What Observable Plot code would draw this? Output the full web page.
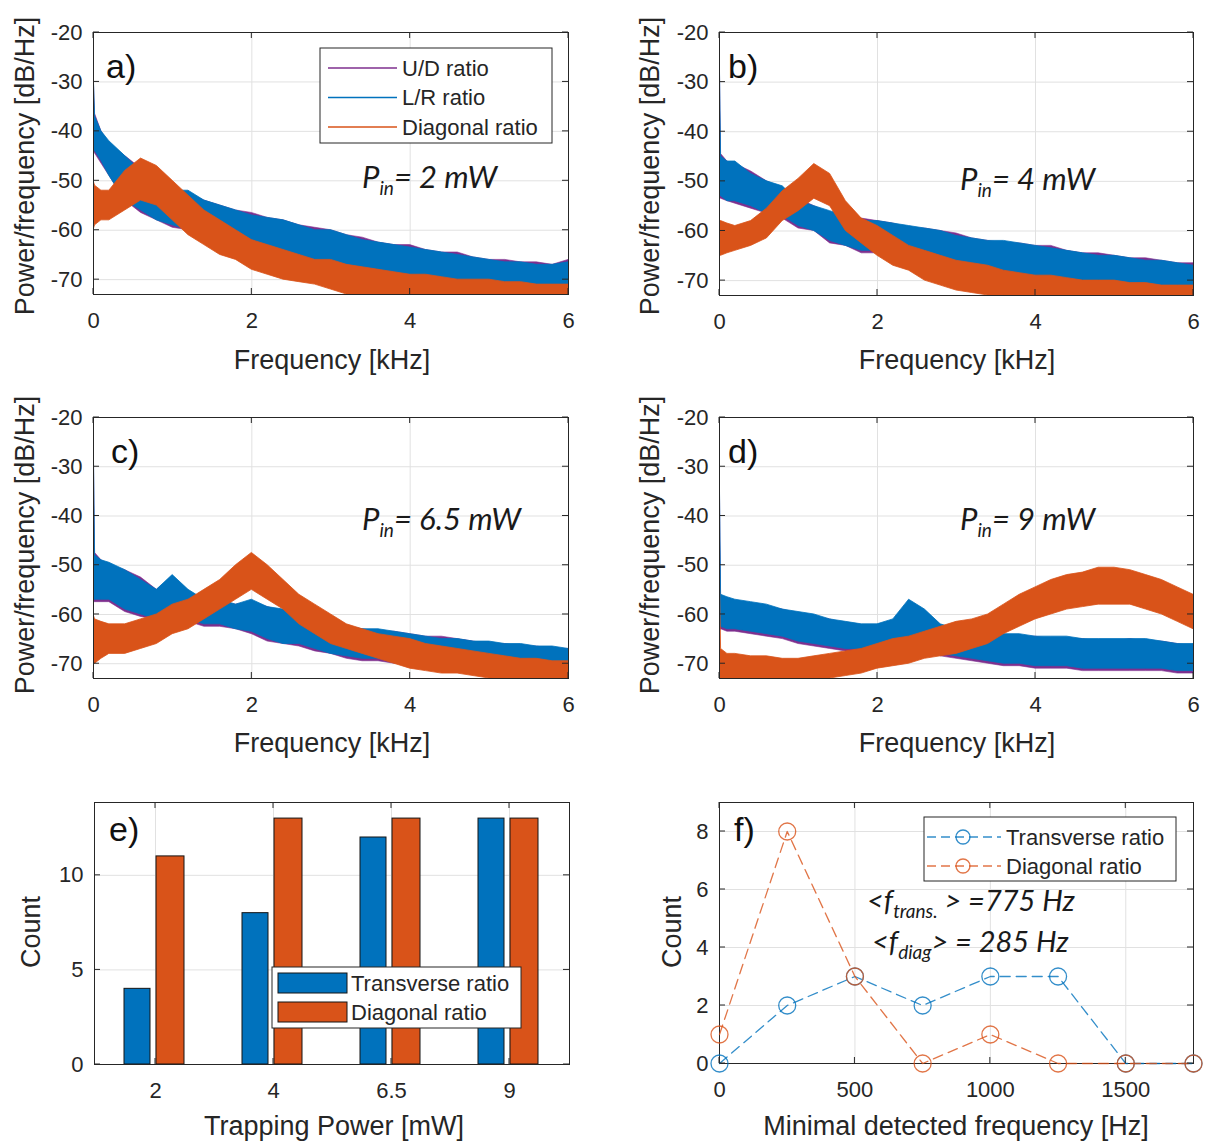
<!DOCTYPE html>
<html><head><meta charset="utf-8">
<script src="https://cdn.jsdelivr.net/npm/d3@7"></script>
<script src="https://cdn.jsdelivr.net/npm/@observablehq/plot@0.6"></script>
<style>
body{margin:0;background:#fff;}
#wrap{position:relative;width:1208px;height:1147px;overflow:hidden;background:#fff;}
</style></head><body><div id="wrap"></div>
<script>
// ---------------- DATA ----------------
const freq = [0, 0.02, 0.1, 0.2, 0.4, 0.6, 0.8, 1.0, 1.2, 1.4, 1.6, 1.8, 2.0, 2.2, 2.4, 2.6, 2.8, 3.0, 3.2, 3.4, 3.6, 3.8, 4.0, 4.2, 4.4, 4.6, 4.8, 5.0, 5.2, 5.4, 5.6, 5.8, 6.0];
const freqTicks = [0, 2, 4, 6];
const dbTicks = [-20, -30, -40, -50, -60, -70];

// Panel a (2 mW): noise band lower / upper edges, dB/Hz
const aUDhi = [-28, -36.5, -40, -42.5, -45, -47.5, -50, -52, -52.5, -54, -55, -56, -56.5, -57.5, -58, -59, -59.5, -60, -61, -61.5, -62.5, -63, -63, -64, -64.5, -64.5, -65.5, -66, -66, -66.5, -66.5, -67, -66];
const aUDlo = [-44, -44.5, -46.5, -49, -54, -56.5, -58, -59.5, -60, -61.5, -62, -63, -63, -64.5, -64.5, -65.5, -66, -67, -67, -68, -68, -69, -69, -70, -70, -70.5, -70.5, -71.5, -71, -72, -72, -72.5, -72.5];
const aLRhi = [-27, -37, -40, -42, -45, -48, -50, -52, -52, -54, -55, -56, -57, -57.5, -58, -59, -60, -60, -61, -62, -62.5, -63, -63.5, -64, -64.5, -65, -65.5, -66, -66.5, -66.5, -67, -67, -66.5];
const aLRlo = [-44, -44, -46, -49, -54, -56, -58, -59, -60, -61, -62, -62.5, -63, -64, -64.5, -65, -66, -66.5, -67, -67.5, -68, -68.5, -69, -69.5, -70, -70, -70.5, -71, -71, -71.5, -72, -72, -72];
const aDGhi = [-50, -51, -52, -52, -48, -45.5, -47, -50, -53, -56, -58, -60, -62, -63, -64, -65, -66, -66, -67, -67.5, -68, -68.5, -69, -69, -69.5, -70, -70, -70, -70.5, -70.5, -71, -71, -71];
const aDGlo = [-60, -59, -58, -58, -56, -54, -55, -58, -61, -63, -65, -66, -68, -69, -70, -70.5, -71, -72, -73, -73.5, -74, -74, -75, -75, -75, -75, -75, -75, -75, -75, -75, -75, -75];

// Panel b (4 mW)
const bUDhi = [-21, -44.5, -46, -46.5, -48, -50, -51.5, -53.5, -55, -56.5, -57, -57.5, -58, -58.5, -59.5, -59.5, -60, -60.5, -61.5, -62, -62.5, -62.5, -63, -63, -64, -64.5, -64.5, -65, -65.5, -65.5, -66, -66.5, -66.5];
const bUDlo = [-53.5, -53.5, -54, -54.5, -55.5, -56.5, -57.5, -59.5, -60, -62.5, -63, -64.5, -64.5, -65, -65, -66, -66.5, -67, -68, -68, -68.5, -69, -69, -70, -70, -70.5, -70.5, -70.5, -71, -71.5, -71.5, -72, -72.5];
const bLRhi = [-20, -45, -46, -46, -48.5, -50, -51, -54, -55, -56, -57, -58, -58, -58.5, -59, -59.5, -60, -61, -61.5, -62, -62, -62.5, -63, -63.5, -64, -64.5, -65, -65, -65.5, -66, -66, -66.5, -67];
const bLRlo = [-53, -53, -54, -54, -55, -56.5, -57, -59, -60, -62, -63, -64, -64, -64.5, -65, -65.5, -66, -67, -67.5, -68, -68, -68.5, -69, -69.5, -70, -70, -70, -70.5, -71, -71, -71.5, -72, -72];
const bDGhi = [-58, -58, -58.5, -59, -58, -55.5, -52, -49.5, -46.5, -48.5, -54, -57.5, -59, -61, -63, -64, -65, -66, -66.5, -67, -68, -68.5, -69, -69, -69.5, -70, -70, -70, -70.5, -70.5, -71, -71, -71];
const bDGlo = [-65, -65, -64.5, -64, -63, -61.5, -58, -56, -53.5, -55, -60, -62.5, -65, -67, -68, -70, -71, -72, -72.5, -73, -73, -73.5, -74, -74, -75, -75, -75, -75, -75, -75, -75, -75, -75];

// Panel c (6.5 mW)
const cUDhi = [-21, -47.5, -49, -50, -51, -52.5, -55, -52.5, -55.5, -57, -57.5, -58, -57.5, -58.5, -59.5, -60, -61, -61.5, -62.5, -63, -63.5, -63.5, -64, -64.5, -64.5, -65, -65.5, -66, -66, -66.5, -66.5, -67, -67];
const cUDlo = [-57.5, -57.5, -57.5, -57.5, -59.5, -60.5, -61, -60, -61.5, -62.5, -62.5, -63, -64, -65.5, -66, -66.5, -67.5, -68, -69, -69.5, -69.5, -70, -70, -70.5, -70.5, -70.5, -71, -71, -71.5, -71.5, -72, -72, -72.5];
const cLRhi = [-20, -48, -49, -49.5, -51, -53, -55, -52, -55, -57, -57, -58, -57, -58.5, -59, -60, -61, -62, -62.5, -63, -63, -63.5, -64, -64.5, -65, -65, -65.5, -65.5, -66, -66, -66.5, -66.5, -67];
const cLRlo = [-57, -57, -57, -57, -59, -60, -61, -59.5, -61, -62, -62, -63, -63.5, -65, -66, -66, -67, -68, -68.5, -69, -69, -69.5, -70, -70, -70, -70.5, -70.5, -70.5, -71, -71, -71.5, -72, -72];
const cDGhi = [-60, -61, -61.5, -62, -62, -61, -60, -58, -57, -55, -53, -50, -47.5, -50, -53, -56, -58, -60, -62, -63, -64, -64.5, -65, -66, -66.5, -67, -67.5, -68, -68.5, -69, -69, -69.5, -69.5];
const cDGlo = [-70, -70, -69, -68, -68, -67, -66, -64, -63, -61, -59, -57, -55, -57, -59, -62, -64, -66, -67, -68, -69, -70, -71, -71.5, -72, -72, -72.5, -73, -73.5, -74, -74, -74, -74];

// Panel d (9 mW)
const dUDhi = [-26, -56.5, -57, -57.5, -58, -58.5, -59, -60, -60.5, -61, -62, -62.5, -62.5, -61.5, -58, -59.5, -62.5, -63.5, -64, -64, -64.5, -64.5, -64.5, -65, -65, -65, -65.5, -65.5, -65, -65.5, -65.5, -66, -66.5];
const dUDlo = [-63.5, -63, -63.5, -63.5, -64, -64.5, -65, -66, -66.5, -67, -67.5, -67.5, -67.5, -67, -65, -66.5, -68.5, -69, -69.5, -70, -70.5, -70.5, -71, -71, -71, -71.5, -71.5, -71.5, -71.5, -71.5, -71.5, -72, -72];
const dLRhi = [-25, -56, -56.5, -57, -57.5, -58, -59, -59.5, -60, -61, -61.5, -62, -62, -61, -57, -59, -62, -63, -63.5, -64, -64, -64, -64.5, -64.5, -64.5, -65, -65, -65, -65, -65, -65.5, -66, -66];
const dLRlo = [-63, -62.5, -63, -63, -63.5, -64, -64.5, -65.5, -66, -66.5, -67, -67, -67, -66.5, -64.5, -66, -68, -68.5, -69, -69.5, -70, -70, -70.5, -70.5, -70.5, -71, -71, -71, -71, -71, -71, -71.5, -71.5];
const dDGhi = [-48, -67, -68, -68, -68.5, -68.5, -69, -69, -68.5, -68, -67.5, -67, -66, -65, -64.5, -63.5, -62.5, -61.5, -61, -60, -58, -56, -54.5, -53, -52, -51.5, -50.5, -50.5, -51, -52, -53, -54.5, -56];
const dDGlo = [-74, -73, -74, -74, -74, -74, -74, -73, -73, -73, -72.5, -72, -71, -70.5, -70, -69, -68.5, -68, -67, -66, -64, -62.5, -61, -60, -59, -58.5, -58, -58, -58, -59, -60, -61.5, -63];

// Panel e: counts per trapping power
const powers = ["2", "4", "6.5", "9"];
const transCount = [4, 8, 12, 13];
const diagCount = [11, 13, 13, 13];
const countTicksE = [0, 5, 10];

// Panel f: histogram of minimal detected frequency
const minFreq = [0, 250, 500, 750, 1000, 1250, 1500, 1750];
const transHist = [0, 2, 3, 2, 3, 3, 0, 0];
const diagHist = [1, 8, 3, 0, 1, 0, 0, 0];
const hzTicks = [0, 500, 1000, 1500];
const countTicksF = [0, 2, 4, 6, 8];

// ---------------- STYLE ----------------
const FONT = '"Liberation Sans", Arial, Helvetica, sans-serif';
const ITAL = 'Lato, "Open Sans", sans-serif';
const C_UD = "#7E2F8E", C_LR = "#0072BD", C_DG = "#D95319";
const INK = "#262626", GRID = "#e1e1e1";
const wrap = document.getElementById("wrap");
const baseStyle = {fontFamily: FONT, fontSize: "22px", color: INK, background: "transparent", overflow: "visible"};

function mount(svg, left, top) {
  svg.style.position = "absolute";
  svg.style.left = left + "px";
  svg.style.top = top + "px";
  svg.style.maxWidth = "none";
  wrap.appendChild(svg);
}

function txt(sel, x, y, size, str, anchor = "start") {
  return sel.append("text").attr("x", x).attr("y", y).attr("text-anchor", anchor)
    .attr("font-size", size).attr("fill", INK).text(str);
}

function inTicks(svg, xt, yt, len = 6) {
  const x = svg.scale("x"), y = svg.scale("y");
  const off = x.bandwidth ? x.bandwidth / 2 : 0;
  const xr = x.range, yr = y.range;
  const yb = Math.max(...yr), ytop = Math.min(...yr);
  const xl = Math.min(...xr), xrr = Math.max(...xr);
  const g = d3.select(svg).append("g").attr("stroke", INK).attr("stroke-width", 1);
  for (const t of xt) {
    const px = x.apply(t) + off;
    g.append("line").attr("x1", px).attr("x2", px).attr("y1", yb).attr("y2", yb - len);
    g.append("line").attr("x1", px).attr("x2", px).attr("y1", ytop).attr("y2", ytop + len);
  }
  for (const t of yt) {
    const py = y.apply(t);
    g.append("line").attr("x1", xl).attr("x2", xl + len).attr("y1", py).attr("y2", py);
    g.append("line").attr("x1", xrr).attr("x2", xrr - len).attr("y1", py).attr("y2", py);
  }
}

function deco(svg, xlab, ylab, tag) {
  const s = d3.select(svg);
  txt(s, xlab[0], xlab[1], 27, xlab[2], "middle").attr("dominant-baseline", "central");
  s.append("text").attr("transform", `translate(${ylab[0]},${ylab[1]}) rotate(-90)`).attr("text-anchor", "middle")
    .attr("dominant-baseline", "central").attr("font-size", 27).attr("fill", INK).text(ylab[2]);
  txt(s, tag[0], tag[1], 34, tag[2]).attr("fill", "#111");
}

function pinText(svg, x, y, value) {
  const t = d3.select(svg).append("text").attr("x", x).attr("y", y).attr("text-anchor", "start")
    .attr("font-family", ITAL).attr("font-style", "italic").attr("font-size", 31).attr("fill", "#1a1a1a");
  t.append("tspan").text("P");
  t.append("tspan").attr("font-size", 19).attr("dy", 7).text("in");
  t.append("tspan").attr("dy", -7).text("= " + value + " mW");
}

function band(lo, hi) { return freq.map((f, i) => ({f, lo: lo[i], hi: hi[i]})); }

function spectrum(cfg) {
  const s = cfg.series;
  const svg = Plot.plot({
    width: cfg.w, height: cfg.h,
    marginLeft: cfg.m[0], marginRight: cfg.m[1], marginTop: cfg.m[2], marginBottom: cfg.m[3],
    style: baseStyle,
    x: {domain: [0, 6]},
    y: {domain: [-73, -20]},
    marks: [
      Plot.gridX(freqTicks, {stroke: GRID, strokeOpacity: 1}),
      Plot.gridY(dbTicks, {stroke: GRID, strokeOpacity: 1}),
      Plot.areaY(band(s.udLo, s.udHi), {x: "f", y1: "lo", y2: "hi", fill: C_UD, stroke: C_UD, strokeWidth: 0.6, clip: true}),
      Plot.areaY(band(s.lrLo, s.lrHi), {x: "f", y1: "lo", y2: "hi", fill: C_LR, stroke: C_LR, strokeWidth: 0.8, clip: true}),
      Plot.areaY(band(s.dgLo, s.dgHi), {x: "f", y1: "lo", y2: "hi", fill: C_DG, stroke: C_DG, strokeWidth: 0.8, clip: true}),
      Plot.frame({stroke: INK}),
      Plot.axisX(freqTicks, {tickSize: 0, tickPadding: 18, tickFormat: d => String(d), label: null}),
      Plot.axisY(dbTicks, {tickSize: 0, tickPadding: 11, tickFormat: d => String(d), label: null})
    ]
  });
  inTicks(svg, freqTicks, dbTicks);
  deco(svg, cfg.xlab, cfg.ylab, cfg.tag);
  pinText(svg, cfg.pin[0], cfg.pin[1], cfg.pin[2]);
  mount(svg, cfg.left, cfg.top);
  return svg;
}

const YLAB = "Power/frequency [dB/Hz]", XLAB = "Frequency [kHz]";

const svgA = spectrum({left: 0, top: 0, w: 600, h: 380, m: [93, 32, 32, 86],
  series: {udLo: aUDlo, udHi: aUDhi, lrLo: aLRlo, lrHi: aLRhi, dgLo: aDGlo, dgHi: aDGhi},
  xlab: [332, 360, XLAB], ylab: [25, 166, YLAB], tag: [106, 78, "a)"], pin: [362, 188, "2"]});
spectrum({left: 600, top: 0, w: 608, h: 380, m: [119, 15, 32, 85],
  series: {udLo: bUDlo, udHi: bUDhi, lrLo: bLRlo, lrHi: bLRhi, dgLo: bDGlo, dgHi: bDGhi},
  xlab: [357, 360, XLAB], ylab: [50, 166, YLAB], tag: [128, 78, "b)"], pin: [360, 190, "4"]});
spectrum({left: 0, top: 380, w: 600, h: 380, m: [93, 32, 37, 82],
  series: {udLo: cUDlo, udHi: cUDhi, lrLo: cLRlo, lrHi: cLRhi, dgLo: cDGlo, dgHi: cDGhi},
  xlab: [332, 363, XLAB], ylab: [25, 165, YLAB], tag: [111, 83, "c)"], pin: [362, 150, "6.5"]});
spectrum({left: 600, top: 380, w: 608, h: 380, m: [119, 15, 37, 82],
  series: {udLo: dUDlo, udHi: dUDhi, lrLo: dLRlo, lrHi: dLRhi, dgLo: dDGlo, dgHi: dDGhi},
  xlab: [357, 363, XLAB], ylab: [50, 165, YLAB], tag: [128, 83, "d)"], pin: [360, 150, "9"]});

// legend of panel a
{
  const s = d3.select(svgA);
  s.append("rect").attr("x", 320).attr("y", 48).attr("width", 232).attr("height", 95)
    .attr("fill", "#fff").attr("stroke", INK).attr("stroke-width", 1);
  const items = [["U/D ratio", C_UD], ["L/R ratio", C_LR], ["Diagonal ratio", C_DG]];
  items.forEach(([name, c], i) => {
    const y = 68 + i * 29.5;
    s.append("line").attr("x1", 328).attr("x2", 397).attr("y1", y).attr("y2", y).attr("stroke", c).attr("stroke-width", 1.5);
    txt(s, 402, y, 22, name).attr("dominant-baseline", "central");
  });
}

// ---------------- Panel e ----------------
{
  const data = powers.map((p, i) => ({p, t: transCount[i], d: diagCount[i]}));
  const svg = Plot.plot({
    width: 600, height: 387, marginLeft: 94, marginRight: 31, marginTop: 42, marginBottom: 83,
    style: baseStyle,
    x: {type: "band", domain: powers, padding: 0},
    y: {domain: [0, 13.85]},
    marks: [
      Plot.gridX(powers, {stroke: GRID, strokeOpacity: 1}),
      Plot.gridY(countTicksE, {stroke: GRID, strokeOpacity: 1}),
      Plot.barY(data, {x: "p", y: "t", fill: C_LR, stroke: "#141414", strokeWidth: 1, insetLeft: 28, insetRight: 64}),
      Plot.barY(data, {x: "p", y: "d", fill: C_DG, stroke: "#141414", strokeWidth: 1, insetLeft: 60, insetRight: 30}),
      Plot.frame({stroke: INK}),
      Plot.axisX(powers, {tickSize: 0, tickPadding: 18, label: null}),
      Plot.axisY(countTicksE, {tickSize: 0, tickPadding: 11, tickFormat: d => String(d), label: null})
    ]
  });
  inTicks(svg, powers, countTicksE);
  deco(svg, [334, 366, "Trapping Power [mW]"], [31, 172, "Count"], [109, 81, "e)"]);
  const s = d3.select(svg);
  s.append("rect").attr("x", 272).attr("y", 207).attr("width", 249).attr("height", 61)
    .attr("fill", "#fff").attr("stroke", INK).attr("stroke-width", 1);
  [["Transverse ratio", C_LR], ["Diagonal ratio", C_DG]].forEach(([name, c], i) => {
    const y = 213 + i * 29;
    s.append("rect").attr("x", 278).attr("y", y).attr("width", 69).attr("height", 20)
      .attr("fill", c).attr("stroke", "#141414").attr("stroke-width", 1);
    txt(s, 351, y + 10.5, 22, name).attr("dominant-baseline", "central");
  });
  mount(svg, 0, 760);
}

// ---------------- Panel f ----------------
{
  const data = minFreq.map((hz, i) => ({hz, t: transHist[i], d: diagHist[i]}));
  const lineOpt = {strokeWidth: 1.3, strokeDasharray: "10,6", strokeOpacity: 0.8};
  const dotOpt = {r: 8.5, fill: "none", strokeWidth: 1.3, strokeOpacity: 0.8};
  const svg = Plot.plot({
    width: 608, height: 387, marginLeft: 119, marginRight: 15, marginTop: 42, marginBottom: 84,
    style: baseStyle,
    x: {domain: [0, 1750]},
    y: {domain: [0, 9]},
    marks: [
      Plot.gridX(hzTicks, {stroke: GRID, strokeOpacity: 1}),
      Plot.gridY(countTicksF, {stroke: GRID, strokeOpacity: 1}),
      Plot.frame({stroke: INK}),
      Plot.line(data, {x: "hz", y: "t", stroke: C_LR, ...lineOpt}),
      Plot.dot(data, {x: "hz", y: "t", stroke: C_LR, ...dotOpt}),
      Plot.line(data, {x: "hz", y: "d", stroke: C_DG, ...lineOpt}),
      Plot.dot(data, {x: "hz", y: "d", stroke: C_DG, ...dotOpt}),
      Plot.axisX(hzTicks, {tickSize: 0, tickPadding: 18, tickFormat: d => String(d), label: null}),
      Plot.axisY(countTicksF, {tickSize: 0, tickPadding: 11, tickFormat: d => String(d), label: null})
    ]
  });
  inTicks(svg, hzTicks, countTicksF);
  deco(svg, [356, 366, "Minimal detected frequency [Hz]"], [72, 172, "Count"], [134, 81, "f)"]);
  const s = d3.select(svg);
  s.append("rect").attr("x", 324).attr("y", 57).attr("width", 252).attr("height", 64)
    .attr("fill", "#fff").attr("stroke", INK).attr("stroke-width", 1);
  [["Transverse ratio", C_LR], ["Diagonal ratio", C_DG]].forEach(([name, c], i) => {
    const y = 77 + i * 29;
    s.append("line").attr("x1", 327).attr("x2", 401).attr("y1", y).attr("y2", y).attr("stroke", c)
      .attr("stroke-width", 1.3).attr("stroke-dasharray", "9,5").attr("stroke-opacity", 0.8);
    s.append("circle").attr("cx", 363).attr("cy", y).attr("r", 7).attr("fill", "none").attr("stroke", c)
      .attr("stroke-width", 1.3).attr("stroke-opacity", 0.8);
    txt(s, 406, y, 22, name).attr("dominant-baseline", "central");
  });
  const t1 = s.append("text").attr("x", 267).attr("y", 151).attr("text-anchor", "start").attr("font-family", ITAL)
    .attr("font-style", "italic").attr("font-size", 29).attr("fill", "#1a1a1a");
  t1.append("tspan").text("<f");
  t1.append("tspan").attr("font-size", 19).attr("dy", 7).text("trans.");
  t1.append("tspan").attr("dy", -7).text(" > =775 Hz");
  const t2 = s.append("text").attr("x", 272).attr("y", 192).attr("text-anchor", "start").attr("font-family", ITAL)
    .attr("font-style", "italic").attr("font-size", 29).attr("fill", "#1a1a1a");
  t2.append("tspan").text("<f");
  t2.append("tspan").attr("font-size", 19).attr("dy", 7).text("diag");
  t2.append("tspan").attr("dy", -7).text("> = 285 Hz");
  mount(svg, 600, 760);
}
</script>
</body></html>
